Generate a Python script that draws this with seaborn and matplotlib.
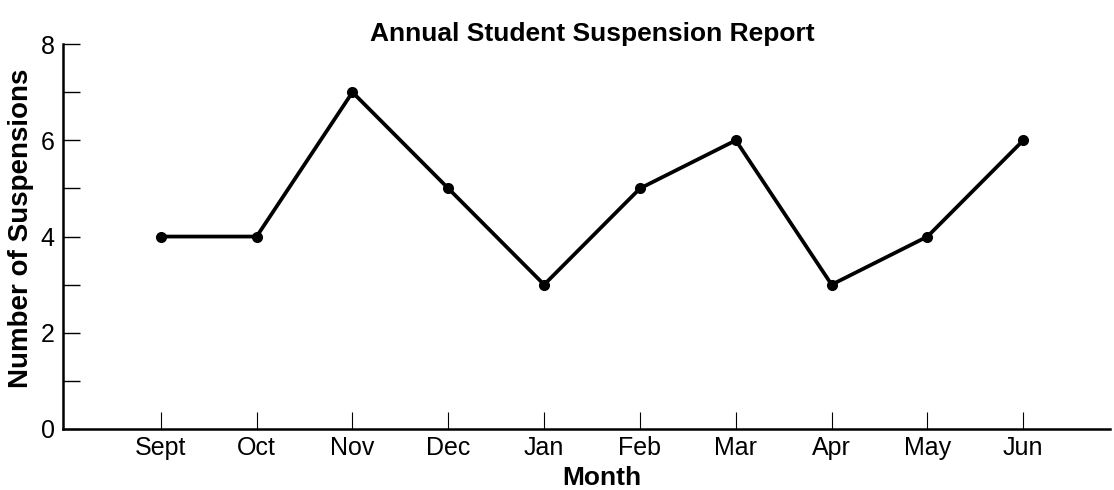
import matplotlib
matplotlib.use("Agg")
import matplotlib.pyplot as plt
import seaborn as sns
import pandas as pd

# Data
months = ["Sept", "Oct", "Nov", "Dec", "Jan", "Feb", "Mar", "Apr", "May", "Jun"]
suspensions = [4, 4, 7, 5, 3, 5, 6, 3, 4, 6]

df = pd.DataFrame({"Month": months, "Suspensions": suspensions})
df["pos"] = range(len(months))

sns.set_style("white")
plt.rcParams["font.family"] = ["Liberation Sans", "DejaVu Sans"]
plt.rcParams["text.color"] = "black"
plt.rcParams["axes.labelcolor"] = "black"
plt.rcParams["xtick.color"] = "black"
plt.rcParams["ytick.color"] = "black"

fig = plt.figure(figsize=(11.14, 4.9), dpi=100)
ax = fig.add_axes([0.0566, 0.1245, 0.9394, 0.7855])

sns.lineplot(data=df, x="pos", y="Suspensions", color="black", linewidth=2.7,
             marker="o", markersize=8, markeredgewidth=0, ax=ax)

ax.set_xlim(-1.02, 9.9)
ax.set_ylim(0, 8)
ax.set_xticks(df["pos"])
ax.set_xticklabels(months)
ax.set_yticks([0, 2, 4, 6, 8])
ax.set_yticks([1, 3, 5, 7], minor=True)

sns.despine(ax=ax)
for side in ["left", "bottom"]:
    ax.spines[side].set_linewidth(1.8)
    ax.spines[side].set_color("black")

ax.tick_params(axis="y", which="both", direction="in", length=12, width=1,
               color="black", labelsize=18, labelcolor="black", pad=6, left=True)
ax.tick_params(axis="x", which="major", direction="in", length=12, width=0.8,
               color="black", labelsize=18, labelcolor="black", pad=5, bottom=True)

ax.set_title("Annual Student Suspension Report", fontsize=19, fontweight="bold",
             color="black", pad=2, x=0.506)
ax.set_xlabel("Month", fontsize=19, fontweight="bold", color="black", labelpad=4.5)
ax.xaxis.label.set_x(0.515)
ax.set_ylabel("Number of Suspensions", fontsize=20, fontweight="bold",
              color="black", labelpad=4.5)
ax.yaxis.label.set_y(0.522)

fig.savefig("out.png", dpi=100)
